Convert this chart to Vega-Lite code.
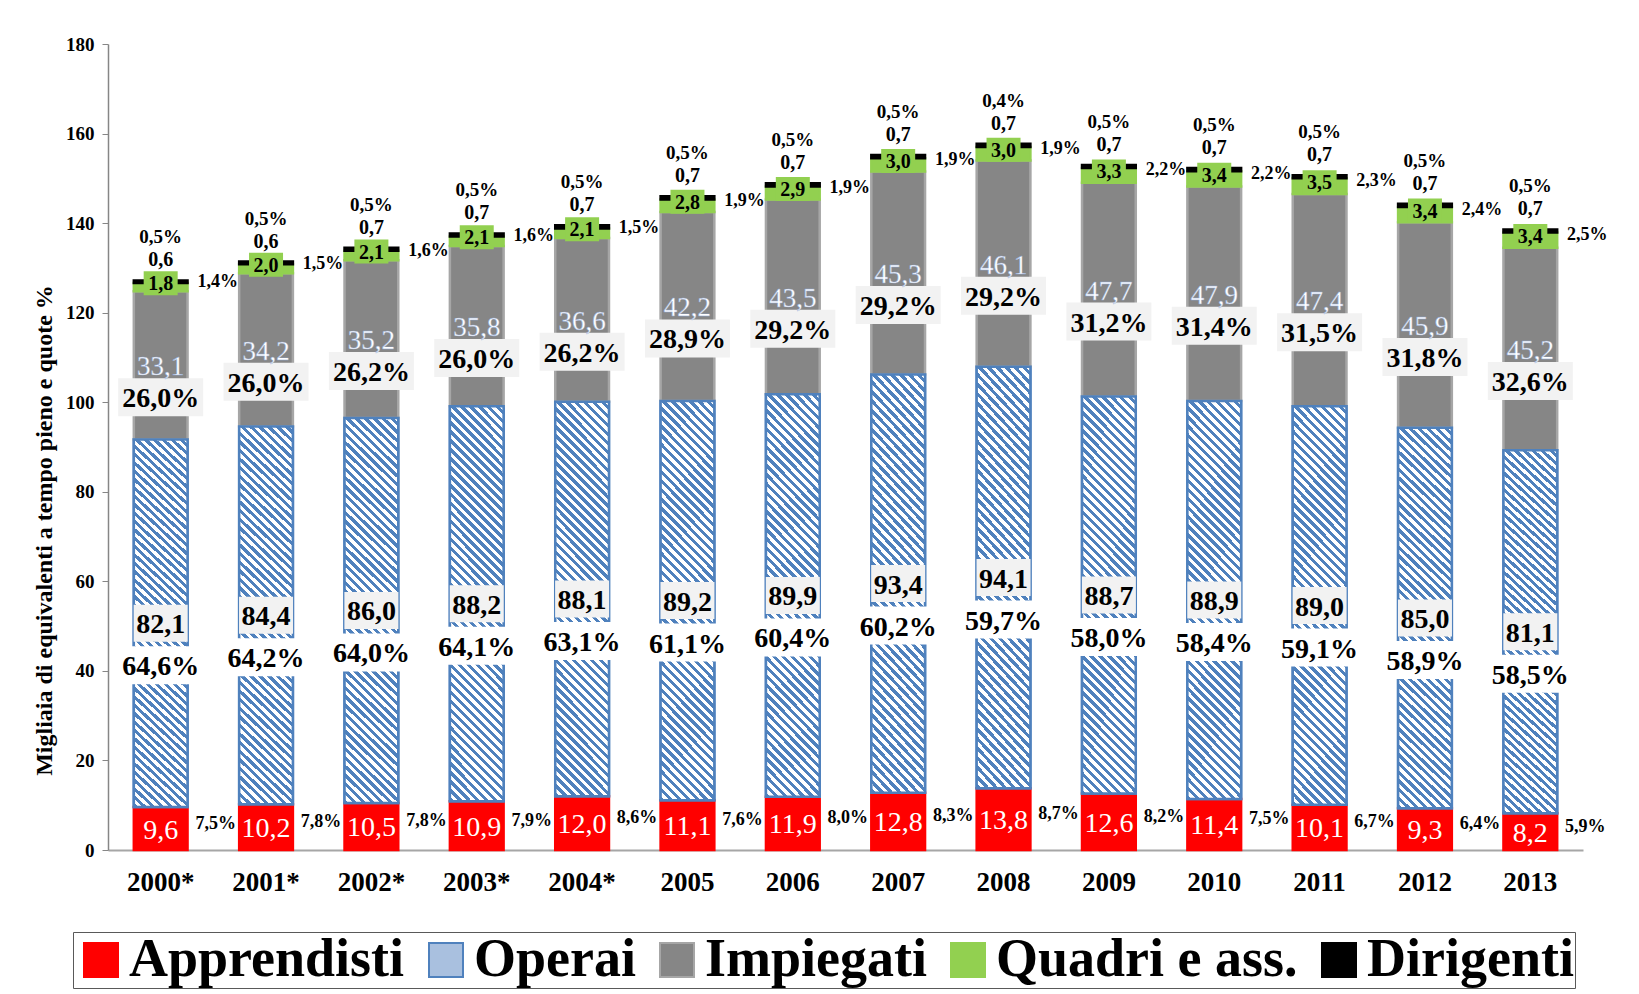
{
"$schema":"https://vega.github.io/schema/vega-lite/v6.json",
"width":1475,"height":806,
"autosize":{"type":"none"},
"padding":{"left":108,"top":44,"right":56,"bottom":144},
"background":"#ffffff",
"config":{"view":{"stroke":null},"font":"Liberation Serif","locale":{"number":{"decimal":",","thousands":".","grouping":[3],"currency":["€",""]}}},
"data":{"values":[
{"yr":"2000*","c":"Apprendisti","v":9.6,"p":"7,5%"},{"yr":"2000*","c":"Operai","v":82.1,"p":"64,6%"},{"yr":"2000*","c":"Impiegati","v":33.1,"p":"26,0%"},{"yr":"2000*","c":"Quadri e ass.","v":1.8,"p":"1,4%"},{"yr":"2000*","c":"Dirigenti","v":0.6,"p":"0,5%"},
{"yr":"2001*","c":"Apprendisti","v":10.2,"p":"7,8%"},{"yr":"2001*","c":"Operai","v":84.4,"p":"64,2%"},{"yr":"2001*","c":"Impiegati","v":34.2,"p":"26,0%"},{"yr":"2001*","c":"Quadri e ass.","v":2.0,"p":"1,5%"},{"yr":"2001*","c":"Dirigenti","v":0.6,"p":"0,5%"},
{"yr":"2002*","c":"Apprendisti","v":10.5,"p":"7,8%"},{"yr":"2002*","c":"Operai","v":86.0,"p":"64,0%"},{"yr":"2002*","c":"Impiegati","v":35.2,"p":"26,2%"},{"yr":"2002*","c":"Quadri e ass.","v":2.1,"p":"1,6%"},{"yr":"2002*","c":"Dirigenti","v":0.7,"p":"0,5%"},
{"yr":"2003*","c":"Apprendisti","v":10.9,"p":"7,9%"},{"yr":"2003*","c":"Operai","v":88.2,"p":"64,1%"},{"yr":"2003*","c":"Impiegati","v":35.8,"p":"26,0%"},{"yr":"2003*","c":"Quadri e ass.","v":2.1,"p":"1,6%"},{"yr":"2003*","c":"Dirigenti","v":0.7,"p":"0,5%"},
{"yr":"2004*","c":"Apprendisti","v":12.0,"p":"8,6%"},{"yr":"2004*","c":"Operai","v":88.1,"p":"63,1%"},{"yr":"2004*","c":"Impiegati","v":36.6,"p":"26,2%"},{"yr":"2004*","c":"Quadri e ass.","v":2.1,"p":"1,5%"},{"yr":"2004*","c":"Dirigenti","v":0.7,"p":"0,5%"},
{"yr":"2005","c":"Apprendisti","v":11.1,"p":"7,6%"},{"yr":"2005","c":"Operai","v":89.2,"p":"61,1%"},{"yr":"2005","c":"Impiegati","v":42.2,"p":"28,9%"},{"yr":"2005","c":"Quadri e ass.","v":2.8,"p":"1,9%"},{"yr":"2005","c":"Dirigenti","v":0.7,"p":"0,5%"},
{"yr":"2006","c":"Apprendisti","v":11.9,"p":"8,0%"},{"yr":"2006","c":"Operai","v":89.9,"p":"60,4%"},{"yr":"2006","c":"Impiegati","v":43.5,"p":"29,2%"},{"yr":"2006","c":"Quadri e ass.","v":2.9,"p":"1,9%"},{"yr":"2006","c":"Dirigenti","v":0.7,"p":"0,5%"},
{"yr":"2007","c":"Apprendisti","v":12.8,"p":"8,3%"},{"yr":"2007","c":"Operai","v":93.4,"p":"60,2%"},{"yr":"2007","c":"Impiegati","v":45.3,"p":"29,2%"},{"yr":"2007","c":"Quadri e ass.","v":3.0,"p":"1,9%"},{"yr":"2007","c":"Dirigenti","v":0.7,"p":"0,5%"},
{"yr":"2008","c":"Apprendisti","v":13.8,"p":"8,7%"},{"yr":"2008","c":"Operai","v":94.1,"p":"59,7%"},{"yr":"2008","c":"Impiegati","v":46.1,"p":"29,2%"},{"yr":"2008","c":"Quadri e ass.","v":3.0,"p":"1,9%"},{"yr":"2008","c":"Dirigenti","v":0.7,"p":"0,4%"},
{"yr":"2009","c":"Apprendisti","v":12.6,"p":"8,2%"},{"yr":"2009","c":"Operai","v":88.7,"p":"58,0%"},{"yr":"2009","c":"Impiegati","v":47.7,"p":"31,2%"},{"yr":"2009","c":"Quadri e ass.","v":3.3,"p":"2,2%"},{"yr":"2009","c":"Dirigenti","v":0.7,"p":"0,5%"},
{"yr":"2010","c":"Apprendisti","v":11.4,"p":"7,5%"},{"yr":"2010","c":"Operai","v":88.9,"p":"58,4%"},{"yr":"2010","c":"Impiegati","v":47.9,"p":"31,4%"},{"yr":"2010","c":"Quadri e ass.","v":3.4,"p":"2,2%"},{"yr":"2010","c":"Dirigenti","v":0.7,"p":"0,5%"},
{"yr":"2011","c":"Apprendisti","v":10.1,"p":"6,7%"},{"yr":"2011","c":"Operai","v":89.0,"p":"59,1%"},{"yr":"2011","c":"Impiegati","v":47.4,"p":"31,5%"},{"yr":"2011","c":"Quadri e ass.","v":3.5,"p":"2,3%"},{"yr":"2011","c":"Dirigenti","v":0.7,"p":"0,5%"},
{"yr":"2012","c":"Apprendisti","v":9.3,"p":"6,4%"},{"yr":"2012","c":"Operai","v":85.0,"p":"58,9%"},{"yr":"2012","c":"Impiegati","v":45.9,"p":"31,8%"},{"yr":"2012","c":"Quadri e ass.","v":3.4,"p":"2,4%"},{"yr":"2012","c":"Dirigenti","v":0.7,"p":"0,5%"},
{"yr":"2013","c":"Apprendisti","v":8.2,"p":"5,9%"},{"yr":"2013","c":"Operai","v":81.1,"p":"58,5%"},{"yr":"2013","c":"Impiegati","v":45.2,"p":"32,6%"},{"yr":"2013","c":"Quadri e ass.","v":3.4,"p":"2,5%"},{"yr":"2013","c":"Dirigenti","v":0.7,"p":"0,5%"}
]},
"transform":[
{"lookup":"c","from":{"data":{"values":[{"c":"Apprendisti","k":1},{"c":"Operai","k":2},{"c":"Impiegati","k":3},{"c":"Quadri e ass.","k":4},{"c":"Dirigenti","k":5}]},"key":"c","fields":["k"]}},
{"stack":"v","groupby":["yr"],"sort":[{"field":"k","order":"ascending"}],"as":["v0","v1"]},
{"fold":["v0","v1"],"as":["edge","pos"]},
{"aggregate":[{"op":"min","field":"pos","as":"lo"},{"op":"max","field":"pos","as":"hi"},{"op":"mean","field":"pos","as":"mid"}],"groupby":["yr","c","v","p","k"]}
],
"encoding":{"x":{"field":"yr","type":"ordinal","scale":{"paddingInner":0.49,"paddingOuter":0.245},"axis":{"title":null,"ticks":false,"domainColor":"#A6A6A6","domainWidth":2,"labelFont":"Liberation Serif","labelFontWeight":"bold","labelFontSize":27,"labelColor":"#000000","labelPadding":19,"labelAngle":0}}},
"layer":[
{"mark":{"type":"bar","strokeWidth":2.5},
 "encoding":{
  "y":{"field":"lo","type":"quantitative","scale":{"domain":[0,180],"nice":false},"axis":{"title":"Migliaia di equivalenti a tempo pieno e quote %","values":[0,20,40,60,80,100,120,140,160,180],"grid":false,"domainColor":"#868686","domainWidth":1.5,"tickColor":"#868686","tickSize":6,"labelFont":"Liberation Serif","labelFontWeight":"bold","labelFontSize":19,"labelColor":"#000000","labelPadding":8,"titleFont":"Liberation Serif","titleFontSize":24,"titleFontWeight":"bold","titleColor":"#000000","titleY":486,"titlePadding":9}},
  "y2":{"field":"hi"},
  "fill":{"field":"c","type":"nominal","scale":{"domain":["Apprendisti","Operai","Impiegati","Quadri e ass.","Dirigenti"],"range":["#FF0000","#A9C0DF","#868686","#92D050","#000000"]},
   "legend":{"orient":"none","legendX":-35,"legendY":888,"direction":"horizontal","columns":5,"title":null,"labelFont":"Liberation Serif","labelFontWeight":"bold","labelFontSize":54,"labelColor":"#000000","labelLimit":600,"labelOffset":1,"columnPadding":14,"symbolType":"square","symbolSize":1156,"symbolStrokeWidth":2,"strokeColor":"#595959","fillColor":"#FFFFFF","padding":1}},
  "stroke":{"field":"c","type":"nominal","scale":{"domain":["Apprendisti","Operai","Impiegati","Quadri e ass.","Dirigenti"],"range":["#FF0000","#4F81BD","#A6A6A6","#92D050","#000000"]}}
 }},
{"transform":[{"filter":{"field":"c","equal":"Operai"}}],
 "mark":{"type":"bar","strokeWidth":2.5,"stroke":"#4F81BD","fill":{"gradient":"linear","x1":0,"y1":1,"x2":0.1529,"y2":-0.116,"stops":[
{"offset":0,"color":"#4F81BD"},{"offset":0.01,"color":"#4F81BD"},{"offset":0.01,"color":"#FFFFFF"},{"offset":0.02,"color":"#FFFFFF"},
{"offset":0.02,"color":"#4F81BD"},{"offset":0.03,"color":"#4F81BD"},{"offset":0.03,"color":"#FFFFFF"},{"offset":0.04,"color":"#FFFFFF"},
{"offset":0.04,"color":"#4F81BD"},{"offset":0.05,"color":"#4F81BD"},{"offset":0.05,"color":"#FFFFFF"},{"offset":0.06,"color":"#FFFFFF"},
{"offset":0.06,"color":"#4F81BD"},{"offset":0.07,"color":"#4F81BD"},{"offset":0.07,"color":"#FFFFFF"},{"offset":0.08,"color":"#FFFFFF"},
{"offset":0.08,"color":"#4F81BD"},{"offset":0.09,"color":"#4F81BD"},{"offset":0.09,"color":"#FFFFFF"},{"offset":0.1,"color":"#FFFFFF"},
{"offset":0.1,"color":"#4F81BD"},{"offset":0.11,"color":"#4F81BD"},{"offset":0.11,"color":"#FFFFFF"},{"offset":0.12,"color":"#FFFFFF"},
{"offset":0.12,"color":"#4F81BD"},{"offset":0.13,"color":"#4F81BD"},{"offset":0.13,"color":"#FFFFFF"},{"offset":0.14,"color":"#FFFFFF"},
{"offset":0.14,"color":"#4F81BD"},{"offset":0.15,"color":"#4F81BD"},{"offset":0.15,"color":"#FFFFFF"},{"offset":0.16,"color":"#FFFFFF"},
{"offset":0.16,"color":"#4F81BD"},{"offset":0.17,"color":"#4F81BD"},{"offset":0.17,"color":"#FFFFFF"},{"offset":0.18,"color":"#FFFFFF"},
{"offset":0.18,"color":"#4F81BD"},{"offset":0.19,"color":"#4F81BD"},{"offset":0.19,"color":"#FFFFFF"},{"offset":0.2,"color":"#FFFFFF"},
{"offset":0.2,"color":"#4F81BD"},{"offset":0.21,"color":"#4F81BD"},{"offset":0.21,"color":"#FFFFFF"},{"offset":0.22,"color":"#FFFFFF"},
{"offset":0.22,"color":"#4F81BD"},{"offset":0.23,"color":"#4F81BD"},{"offset":0.23,"color":"#FFFFFF"},{"offset":0.24,"color":"#FFFFFF"},
{"offset":0.24,"color":"#4F81BD"},{"offset":0.25,"color":"#4F81BD"},{"offset":0.25,"color":"#FFFFFF"},{"offset":0.26,"color":"#FFFFFF"},
{"offset":0.26,"color":"#4F81BD"},{"offset":0.27,"color":"#4F81BD"},{"offset":0.27,"color":"#FFFFFF"},{"offset":0.28,"color":"#FFFFFF"},
{"offset":0.28,"color":"#4F81BD"},{"offset":0.29,"color":"#4F81BD"},{"offset":0.29,"color":"#FFFFFF"},{"offset":0.3,"color":"#FFFFFF"},
{"offset":0.3,"color":"#4F81BD"},{"offset":0.31,"color":"#4F81BD"},{"offset":0.31,"color":"#FFFFFF"},{"offset":0.32,"color":"#FFFFFF"},
{"offset":0.32,"color":"#4F81BD"},{"offset":0.33,"color":"#4F81BD"},{"offset":0.33,"color":"#FFFFFF"},{"offset":0.34,"color":"#FFFFFF"},
{"offset":0.34,"color":"#4F81BD"},{"offset":0.35,"color":"#4F81BD"},{"offset":0.35,"color":"#FFFFFF"},{"offset":0.36,"color":"#FFFFFF"},
{"offset":0.36,"color":"#4F81BD"},{"offset":0.37,"color":"#4F81BD"},{"offset":0.37,"color":"#FFFFFF"},{"offset":0.38,"color":"#FFFFFF"},
{"offset":0.38,"color":"#4F81BD"},{"offset":0.39,"color":"#4F81BD"},{"offset":0.39,"color":"#FFFFFF"},{"offset":0.4,"color":"#FFFFFF"},
{"offset":0.4,"color":"#4F81BD"},{"offset":0.41,"color":"#4F81BD"},{"offset":0.41,"color":"#FFFFFF"},{"offset":0.42,"color":"#FFFFFF"},
{"offset":0.42,"color":"#4F81BD"},{"offset":0.43,"color":"#4F81BD"},{"offset":0.43,"color":"#FFFFFF"},{"offset":0.44,"color":"#FFFFFF"},
{"offset":0.44,"color":"#4F81BD"},{"offset":0.45,"color":"#4F81BD"},{"offset":0.45,"color":"#FFFFFF"},{"offset":0.46,"color":"#FFFFFF"},
{"offset":0.46,"color":"#4F81BD"},{"offset":0.47,"color":"#4F81BD"},{"offset":0.47,"color":"#FFFFFF"},{"offset":0.48,"color":"#FFFFFF"},
{"offset":0.48,"color":"#4F81BD"},{"offset":0.49,"color":"#4F81BD"},{"offset":0.49,"color":"#FFFFFF"},{"offset":0.5,"color":"#FFFFFF"},
{"offset":0.5,"color":"#4F81BD"},{"offset":0.51,"color":"#4F81BD"},{"offset":0.51,"color":"#FFFFFF"},{"offset":0.52,"color":"#FFFFFF"},
{"offset":0.52,"color":"#4F81BD"},{"offset":0.53,"color":"#4F81BD"},{"offset":0.53,"color":"#FFFFFF"},{"offset":0.54,"color":"#FFFFFF"},
{"offset":0.54,"color":"#4F81BD"},{"offset":0.55,"color":"#4F81BD"},{"offset":0.55,"color":"#FFFFFF"},{"offset":0.56,"color":"#FFFFFF"},
{"offset":0.56,"color":"#4F81BD"},{"offset":0.57,"color":"#4F81BD"},{"offset":0.57,"color":"#FFFFFF"},{"offset":0.58,"color":"#FFFFFF"},
{"offset":0.58,"color":"#4F81BD"},{"offset":0.59,"color":"#4F81BD"},{"offset":0.59,"color":"#FFFFFF"},{"offset":0.6,"color":"#FFFFFF"},
{"offset":0.6,"color":"#4F81BD"},{"offset":0.61,"color":"#4F81BD"},{"offset":0.61,"color":"#FFFFFF"},{"offset":0.62,"color":"#FFFFFF"},
{"offset":0.62,"color":"#4F81BD"},{"offset":0.63,"color":"#4F81BD"},{"offset":0.63,"color":"#FFFFFF"},{"offset":0.64,"color":"#FFFFFF"},
{"offset":0.64,"color":"#4F81BD"},{"offset":0.65,"color":"#4F81BD"},{"offset":0.65,"color":"#FFFFFF"},{"offset":0.66,"color":"#FFFFFF"},
{"offset":0.66,"color":"#4F81BD"},{"offset":0.67,"color":"#4F81BD"},{"offset":0.67,"color":"#FFFFFF"},{"offset":0.68,"color":"#FFFFFF"},
{"offset":0.68,"color":"#4F81BD"},{"offset":0.69,"color":"#4F81BD"},{"offset":0.69,"color":"#FFFFFF"},{"offset":0.7,"color":"#FFFFFF"},
{"offset":0.7,"color":"#4F81BD"},{"offset":0.71,"color":"#4F81BD"},{"offset":0.71,"color":"#FFFFFF"},{"offset":0.72,"color":"#FFFFFF"},
{"offset":0.72,"color":"#4F81BD"},{"offset":0.73,"color":"#4F81BD"},{"offset":0.73,"color":"#FFFFFF"},{"offset":0.74,"color":"#FFFFFF"},
{"offset":0.74,"color":"#4F81BD"},{"offset":0.75,"color":"#4F81BD"},{"offset":0.75,"color":"#FFFFFF"},{"offset":0.76,"color":"#FFFFFF"},
{"offset":0.76,"color":"#4F81BD"},{"offset":0.77,"color":"#4F81BD"},{"offset":0.77,"color":"#FFFFFF"},{"offset":0.78,"color":"#FFFFFF"},
{"offset":0.78,"color":"#4F81BD"},{"offset":0.79,"color":"#4F81BD"},{"offset":0.79,"color":"#FFFFFF"},{"offset":0.8,"color":"#FFFFFF"},
{"offset":0.8,"color":"#4F81BD"},{"offset":0.81,"color":"#4F81BD"},{"offset":0.81,"color":"#FFFFFF"},{"offset":0.82,"color":"#FFFFFF"},
{"offset":0.82,"color":"#4F81BD"},{"offset":0.83,"color":"#4F81BD"},{"offset":0.83,"color":"#FFFFFF"},{"offset":0.84,"color":"#FFFFFF"},
{"offset":0.84,"color":"#4F81BD"},{"offset":0.85,"color":"#4F81BD"},{"offset":0.85,"color":"#FFFFFF"},{"offset":0.86,"color":"#FFFFFF"},
{"offset":0.86,"color":"#4F81BD"},{"offset":0.87,"color":"#4F81BD"},{"offset":0.87,"color":"#FFFFFF"},{"offset":0.88,"color":"#FFFFFF"},
{"offset":0.88,"color":"#4F81BD"},{"offset":0.89,"color":"#4F81BD"},{"offset":0.89,"color":"#FFFFFF"},{"offset":0.9,"color":"#FFFFFF"},
{"offset":0.9,"color":"#4F81BD"},{"offset":0.91,"color":"#4F81BD"},{"offset":0.91,"color":"#FFFFFF"},{"offset":0.92,"color":"#FFFFFF"},
{"offset":0.92,"color":"#4F81BD"},{"offset":0.93,"color":"#4F81BD"},{"offset":0.93,"color":"#FFFFFF"},{"offset":0.94,"color":"#FFFFFF"},
{"offset":0.94,"color":"#4F81BD"},{"offset":0.95,"color":"#4F81BD"},{"offset":0.95,"color":"#FFFFFF"},{"offset":0.96,"color":"#FFFFFF"},
{"offset":0.96,"color":"#4F81BD"},{"offset":0.97,"color":"#4F81BD"},{"offset":0.97,"color":"#FFFFFF"},{"offset":0.98,"color":"#FFFFFF"},
{"offset":0.98,"color":"#4F81BD"},{"offset":0.99,"color":"#4F81BD"},{"offset":0.99,"color":"#FFFFFF"},{"offset":1,"color":"#FFFFFF"}
   ]}},
 "encoding":{"y":{"field":"lo","type":"quantitative","scale":{"domain":[0,180],"nice":false}},"y2":{"field":"hi"}}},
{"transform":[{"filter":{"field":"c","equal":"Operai"}}],
 "mark":{"type":"point","shape":"M-1,-0.685H1V0.685H-1Z","filled":true,"color":"#F2F2F2","opacity":1,"size":2916,"strokeWidth":0},
 "encoding":{"y":{"field":"mid","type":"quantitative","scale":{"domain":[0,180],"nice":false}}}},
{"transform":[{"filter":{"field":"c","equal":"Operai"}}],
 "mark":{"type":"point","shape":"M-1,-0.543H1V0.543H-1Z","filled":true,"color":"#FFFFFF","opacity":1,"size":4900,"strokeWidth":0,"yOffset":42},
 "encoding":{"y":{"field":"mid","type":"quantitative","scale":{"domain":[0,180],"nice":false}}}},
{"transform":[{"filter":{"field":"c","equal":"Impiegati"}}],
 "mark":{"type":"point","shape":"M-1,-0.447H1V0.447H-1Z","filled":true,"color":"#F2F2F2","opacity":1,"size":7225,"strokeWidth":0,"yOffset":32},
 "encoding":{"y":{"field":"mid","type":"quantitative","scale":{"domain":[0,180],"nice":false}}}},
{"transform":[{"filter":{"field":"c","equal":"Quadri e ass."}}],
 "mark":{"type":"point","shape":"M-1,-0.706H1V0.706H-1Z","filled":true,"color":"#92D050","opacity":1,"size":1156,"strokeWidth":0,"yOffset":-4},
 "encoding":{"y":{"field":"mid","type":"quantitative","scale":{"domain":[0,180],"nice":false}}}},
{"transform":[{"filter":{"field":"c","equal":"Apprendisti"}}],
 "mark":{"type":"text","font":"Liberation Serif","fontSize":28,"color":"#FFFFFF","baseline":"middle","dy":2},
 "encoding":{"y":{"field":"mid","type":"quantitative","scale":{"domain":[0,180],"nice":false}},"text":{"field":"v","type":"quantitative","format":".1f"}}},
{"transform":[{"filter":{"field":"c","equal":"Apprendisti"}}],
 "mark":{"type":"text","font":"Liberation Serif","fontSize":18,"fontWeight":"bold","color":"#000000","baseline":"middle","dx":55,"dy":-5},
 "encoding":{"y":{"field":"mid","type":"quantitative","scale":{"domain":[0,180],"nice":false}},"text":{"field":"p","type":"nominal"}}},
{"transform":[{"filter":{"field":"c","equal":"Operai"}}],
 "mark":{"type":"text","font":"Liberation Serif","fontSize":28,"fontWeight":"bold","color":"#000000","baseline":"middle","dy":2},
 "encoding":{"y":{"field":"mid","type":"quantitative","scale":{"domain":[0,180],"nice":false}},"text":{"field":"v","type":"quantitative","format":".1f"}}},
{"transform":[{"filter":{"field":"c","equal":"Operai"}}],
 "mark":{"type":"text","font":"Liberation Serif","fontSize":28,"fontWeight":"bold","color":"#000000","baseline":"middle","dy":44},
 "encoding":{"y":{"field":"mid","type":"quantitative","scale":{"domain":[0,180],"nice":false}},"text":{"field":"p","type":"nominal"}}},
{"transform":[{"filter":{"field":"c","equal":"Impiegati"}}],
 "mark":{"type":"text","font":"Liberation Serif","fontSize":27,"color":"#FFFFFF","stroke":"#8FA9D6","strokeWidth":0.4,"baseline":"middle","dy":2},
 "encoding":{"y":{"field":"mid","type":"quantitative","scale":{"domain":[0,180],"nice":false}},"text":{"field":"v","type":"quantitative","format":".1f"}}},
{"transform":[{"filter":{"field":"c","equal":"Impiegati"}}],
 "mark":{"type":"text","font":"Liberation Serif","fontSize":28,"fontWeight":"bold","color":"#000000","baseline":"middle","dy":34},
 "encoding":{"y":{"field":"mid","type":"quantitative","scale":{"domain":[0,180],"nice":false}},"text":{"field":"p","type":"nominal"}}},
{"transform":[{"filter":{"field":"c","equal":"Quadri e ass."}}],
 "mark":{"type":"text","font":"Liberation Serif","fontSize":20,"fontWeight":"bold","color":"#000000","baseline":"middle","dy":-3},
 "encoding":{"y":{"field":"mid","type":"quantitative","scale":{"domain":[0,180],"nice":false}},"text":{"field":"v","type":"quantitative","format":".1f"}}},
{"transform":[{"filter":{"field":"c","equal":"Quadri e ass."}}],
 "mark":{"type":"text","font":"Liberation Serif","fontSize":18,"fontWeight":"bold","color":"#000000","baseline":"middle","dx":57,"dy":-5},
 "encoding":{"y":{"field":"mid","type":"quantitative","scale":{"domain":[0,180],"nice":false}},"text":{"field":"p","type":"nominal"}}},
{"transform":[{"filter":{"field":"c","equal":"Dirigenti"}}],
 "mark":{"type":"text","font":"Liberation Serif","fontSize":20,"fontWeight":"bold","color":"#000000","baseline":"middle","dy":-20},
 "encoding":{"y":{"field":"hi","type":"quantitative","scale":{"domain":[0,180],"nice":false}},"text":{"field":"v","type":"quantitative","format":".1f"}}},
{"transform":[{"filter":{"field":"c","equal":"Dirigenti"}}],
 "mark":{"type":"text","font":"Liberation Serif","fontSize":19,"fontWeight":"bold","color":"#000000","baseline":"middle","dy":-43},
 "encoding":{"y":{"field":"hi","type":"quantitative","scale":{"domain":[0,180],"nice":false}},"text":{"field":"p","type":"nominal"}}}
]
}
